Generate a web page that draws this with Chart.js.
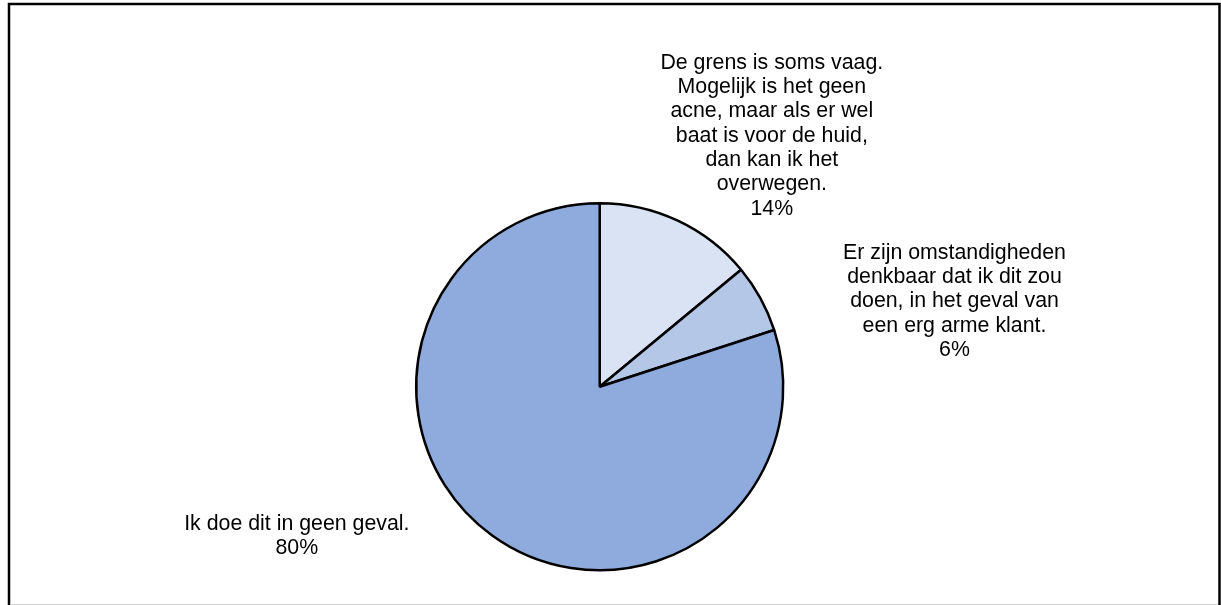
<!DOCTYPE html>
<html lang="nl">
<head>
    <meta charset="UTF-8">
    <title>Acne behandeling</title>
    <script src="https://cdn.jsdelivr.net/npm/chart.js"></script>
    <style>
        html, body { margin: 0; padding: 0; background: #fff; }
        #wrap { width: 1221px; height: 605px; position: relative; }
    </style>
</head>
<body>
    <div id="wrap"><canvas id="pieChart"></canvas></div>
    <script>
        const categories = [
            ['De grens is soms vaag.', 'Mogelijk is het geen', 'acne, maar als er wel', 'baat is voor de huid,', 'dan kan ik het', 'overwegen.'],
            ['Er zijn omstandigheden', 'denkbaar dat ik dit zou', 'doen, in het geval van', 'een erg arme klant.'],
            ['Ik doe dit in geen geval.']
        ];
        const percentages = [14, 6, 80];
        const sliceColors = ['#DAE3F3', '#B4C7E7', '#8FAADC'];

        // where each label block sits, relative to the middle of its slice's rim
        const labelOffsets = [[94, -79], [194, 9], [-195, 7]];
        const lineHeight = 24.3;

        const sliceLabels = {
            id: 'sliceLabels',
            afterDatasetsDraw(chart) {
                const ctx = chart.ctx;
                const arcs = chart.getDatasetMeta(0).data;
                ctx.save();
                ctx.font = '21.33px "Liberation Sans", Arial, sans-serif';
                ctx.fillStyle = '#000';
                ctx.textAlign = 'center';
                ctx.textBaseline = 'alphabetic';
                arcs.forEach((arc, i) => {
                    const mid = (arc.startAngle + arc.endAngle) / 2;
                    const px = arc.x + Math.cos(mid) * arc.outerRadius;
                    const py = arc.y + Math.sin(mid) * arc.outerRadius;
                    const lines = categories[i].concat([percentages[i] + '%']);
                    const cx = px + labelOffsets[i][0];
                    const cy = py + labelOffsets[i][1];
                    const top = cy - (lines.length - 1) * lineHeight / 2;
                    lines.forEach((t, j) => ctx.fillText(t, cx, top + j * lineHeight));
                });
                ctx.restore();
            }
        };

        const frame = {
            id: 'frame',
            afterDraw(chart) {
                const ctx = chart.ctx;
                ctx.save();
                ctx.strokeStyle = '#000';
                ctx.lineWidth = 2.5;
                ctx.beginPath();
                ctx.moveTo(9, 605);
                ctx.lineTo(9, 4);
                ctx.lineTo(1219.5, 4);
                ctx.lineTo(1219.5, 605);
                ctx.stroke();
                ctx.strokeStyle = '#d0d0d0';
                ctx.lineWidth = 1;
                ctx.beginPath();
                ctx.moveTo(10, 604.5);
                ctx.lineTo(1218, 604.5);
                ctx.stroke();
                ctx.restore();
            }
        };

        new Chart(document.getElementById('pieChart'), {
            type: 'pie',
            data: {
                labels: categories.map(c => c.join(' ')),
                datasets: [{
                    data: percentages,
                    backgroundColor: sliceColors,
                    borderColor: '#000',
                    borderWidth: 2.5
                }]
            },
            options: {
                responsive: true,
                maintainAspectRatio: false,
                animation: false,
                layout: { padding: { top: 202, bottom: 33.5, left: 10, right: 31.6 } },
                plugins: {
                    legend: { display: false },
                    tooltip: { enabled: false }
                }
            },
            plugins: [sliceLabels, frame]
        });
    </script>
</body>
</html>
